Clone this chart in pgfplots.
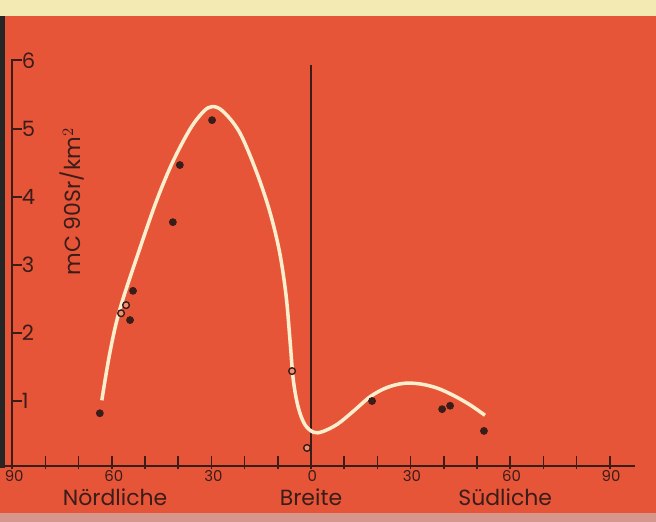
\documentclass[border=0pt]{standalone}
\usepackage{pgfplots}
\pgfplotsset{compat=1.18}
\usepackage{fontspec}
\setmainfont{Poppins}
\definecolor{bg}{RGB}{231,85,57}
\definecolor{ink}{RGB}{58,28,24}
\definecolor{cream}{RGB}{250,238,205}
\definecolor{topstrip}{RGB}{242,234,178}
\definecolor{botstrip}{RGB}{214,150,140}
\begin{document}
\begin{tikzpicture}
\begin{axis}[
  width=13.12cm, height=10.44cm, scale only axis,
  xmin=-93.67, xmax=103.92, ymin=-0.779, ymax=6.897,
  hide axis, xtick=\empty, ytick=\empty,
]
% background and decorative strips
\fill[bg] (axis cs:-93.67,-0.779) rectangle (axis cs:103.92,6.897);
\fill[topstrip] (axis cs:-93.67,6.66) rectangle (axis cs:103.92,6.897);
\fill[black!85] (axis cs:-93.67,0.02) rectangle (axis cs:-92.2,6.66);
\fill[botstrip] (axis cs:-93.67,-0.779) rectangle (axis cs:103.92,-0.64);
% axes
\draw[ink, line width=1.1pt] (axis cs:-93.67,0.04) -- (axis cs:97.6,0.04);
\draw[ink, line width=1.1pt] (axis cs:-90,0.04) -- (axis cs:-90,6.01) -- (axis cs:-87,6.01);
\pgfplotsinvokeforeach{1,2,3,4,5}{
  \draw[ink, line width=1.0pt] (axis cs:-90,#1) -- (axis cs:-87,#1);
}
\pgfplotsinvokeforeach{1,2,3,4,5,6}{
  \node[ink, font=\fontsize{12}{12}\selectfont, anchor=west, inner sep=0pt] at (axis cs:-87.2,#1) {#1};
}
\pgfplotsinvokeforeach{-90,-80,-70,-60,-50,-40,-30,-20,-10,0,10,20,30,40,50,60,70,80,90}{
  \draw[ink, line width=1.0pt] (axis cs:#1,0.0) -- (axis cs:#1,0.19);
}
\node[ink, font=\fontsize{8.5}{8.5}\selectfont, inner sep=0pt] at (axis cs:-89.4,-0.11) {90};
\node[ink, font=\fontsize{8.5}{8.5}\selectfont, inner sep=0pt] at (axis cs:-59.4,-0.11) {60};
\node[ink, font=\fontsize{8.5}{8.5}\selectfont, inner sep=0pt] at (axis cs:-29.4,-0.11) {30};
\node[ink, font=\fontsize{8.5}{8.5}\selectfont, inner sep=0pt] at (axis cs:0.4,-0.11) {0};
\node[ink, font=\fontsize{8.5}{8.5}\selectfont, inner sep=0pt] at (axis cs:30.4,-0.11) {30};
\node[ink, font=\fontsize{8.5}{8.5}\selectfont, inner sep=0pt] at (axis cs:60.4,-0.11) {60};
\node[ink, font=\fontsize{8.5}{8.5}\selectfont, inner sep=0pt] at (axis cs:90.4,-0.11) {90};
% zero-latitude line
\draw[ink, line width=0.9pt] (axis cs:0,0.04) -- (axis cs:0,5.94);
% labels
\node[ink, font=\fontsize{12.5}{12.5}\selectfont, inner sep=0pt] at (axis cs:-59,-0.42) {Nördliche};
\node[ink, font=\fontsize{12.5}{12.5}\selectfont, inner sep=0pt] at (axis cs:0,-0.42) {Breite};
\node[ink, font=\fontsize{12.5}{12.5}\selectfont, inner sep=0pt] at (axis cs:58.5,-0.42) {Südliche};
\node[ink, font=\fontsize{12.5}{12.5}\selectfont, rotate=90, inner sep=0pt] at (axis cs:-71.9,3.93) {mC 90Sr/km$^{2}$};
% fitted curve
\addplot[cream, line width=2pt, smooth, tension=0.55] coordinates {
(-63.0,1.01) (-60.5,1.73) (-57.5,2.36) (-51.5,3.25) (-46.4,3.96)
(-41.6,4.52) (-36.4,5.00) (-32.5,5.25) (-29.8,5.33) (-26.5,5.26)
(-21.5,4.95) (-16.5,4.38) (-12.5,3.80) (-9.5,3.20) (-7.5,2.55) (-6.3,1.88)
(-5.3,1.30) (-3.8,0.90) (-1.8,0.65) (0.8,0.54) (3.5,0.55)
(8.0,0.66) (13.0,0.86) (18.0,1.07) (23.0,1.20) (28.0,1.26) (33.0,1.25)
(38.0,1.19) (43.0,1.08) (48.0,0.94) (52.4,0.79)
};
% filled data points
\addplot[only marks, mark=*, mark size=2pt, color=ink] coordinates {
(-63.6,0.82) (-54.5,2.19) (-53.6,2.62) (-41.6,3.63) (-39.5,4.47) (-29.8,5.13)
(18.4,1.00) (39.5,0.88) (41.9,0.93) (52.1,0.56)
};
% open data points
\addplot[only marks, mark=*, mark size=1.9pt, draw=ink, fill=bg!60!cream, line width=0.8pt] coordinates {
(-57.2,2.29) (-55.7,2.41) (-5.7,1.44) (-1.2,0.31)
};
\end{axis}
\end{tikzpicture}
\end{document}
